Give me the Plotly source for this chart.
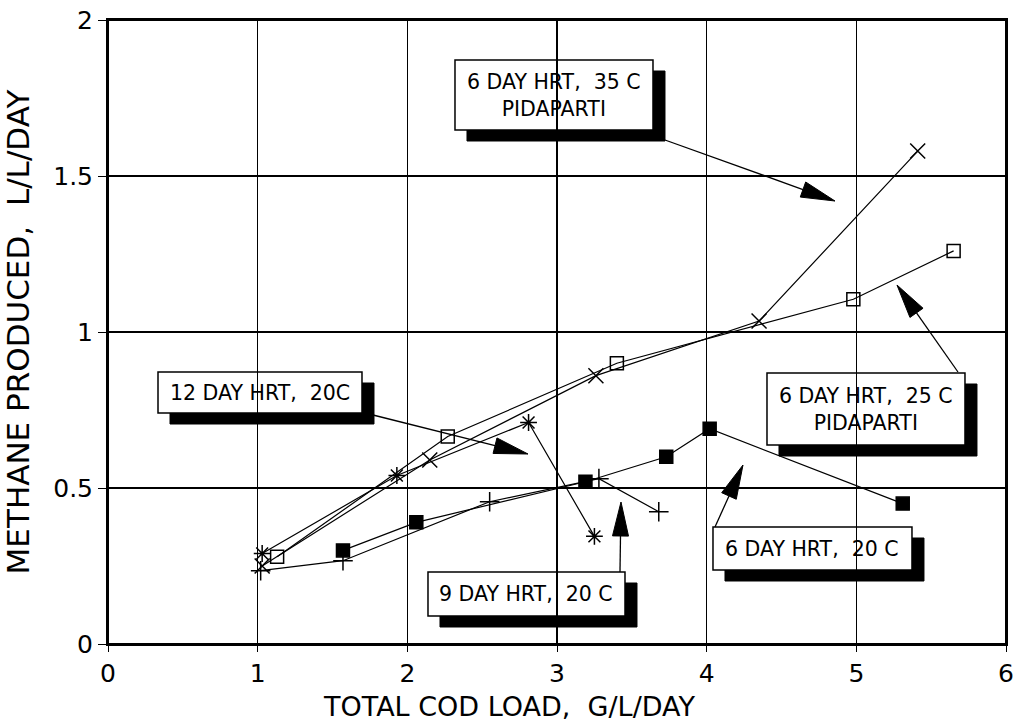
import math
import plotly.graph_objects as go

# ---- data ----
x_35c = [1.03, 2.15, 3.26, 4.35, 5.41]
y_35c = [0.25, 0.59, 0.86, 1.035, 1.58]

x_25c = [1.13, 2.27, 3.40, 4.98, 5.65]
y_25c = [0.28, 0.665, 0.90, 1.105, 1.26]

x_12d = [1.03, 1.93, 2.81, 3.25]
y_12d = [0.29, 0.54, 0.71, 0.345]

x_9d = [1.02, 1.57, 2.55, 3.28, 3.68]
y_9d = [0.235, 0.267, 0.456, 0.53, 0.424]

x_20c = [1.57, 2.06, 3.19, 3.73, 4.02, 5.31]
y_20c = [0.30, 0.39, 0.52, 0.60, 0.69, 0.45]

x_ticks = [0, 1, 2, 3, 4, 5, 6]
y_ticks = [0, 0.5, 1, 1.5, 2]
y_tick_text = ["0", "0.5", "1", "1.5", "2"]

FONT = "DejaVu Sans, sans-serif"

fig = go.Figure()

def add_series(x, y, symbol, size):
    fig.add_trace(go.Scatter(
        x=x, y=y, mode="lines+markers",
        line=dict(color="black", width=1.2),
        marker=dict(symbol=symbol, size=size, color="black",
                    line=dict(color="black", width=1.5)),
        showlegend=False, cliponaxis=False, hoverinfo="skip"))

add_series(x_35c, y_35c, "x-thin-open", 15)
add_series(x_25c, y_25c, "square-open", 13)
add_series(x_12d, y_12d, "asterisk-open", 14)
add_series(x_9d, y_9d, "cross-thin-open", 14)
add_series(x_20c, y_20c, "square", 13)

# ---- helpers: figure pixel -> data ----
def px2x(p):
    return (p - 108) / 149.67

def px2y(p):
    return (644 - p) / 312.0

boxes = [
    ((455, 60, 653, 130), "6 DAY HRT,  35 C<br>PIDAPARTI"),
    ((158, 372, 362, 413), "12 DAY HRT,  20C"),
    ((767, 373, 965, 445), "6 DAY HRT,  25 C<br>PIDAPARTI"),
    ((713, 527, 912, 570), "6 DAY HRT,  20 C"),
    ((428, 572, 625, 616), "9 DAY HRT,  20 C"),
]
SH = 12
shapes = []
for (l, t, r, b), txt in boxes:
    shapes.append(dict(type="rect", xref="x", yref="y", layer="below",
                       x0=px2x(l + SH), x1=px2x(r + SH), y0=px2y(t + SH - 1), y1=px2y(b + SH - 1),
                       fillcolor="black", line=dict(color="black", width=1)))
    shapes.append(dict(type="rect", xref="x", yref="y", layer="below",
                       x0=px2x(l), x1=px2x(r), y0=px2y(t), y1=px2y(b),
                       fillcolor="white", line=dict(color="black", width=1.5)))

annotations = []
for (l, t, r, b), txt in boxes:
    annotations.append(dict(x=px2x((l + r) / 2), y=px2y((t + b) / 2), xref="x", yref="y",
                            text=txt, showarrow=False, align="center",
                            font=dict(family=FONT, size=20.5, color="black")))

# arrows: (tail px, tip px) -> line + long narrow filled triangular head
arrows = [
    ((665, 140), (835, 201)),
    ((373, 415), (528, 454)),
    ((958, 372), (897, 285)),
    ((715, 527), (743, 465)),
    ((620, 572), (621, 502)),
]
HEAD_L, HEAD_W = 34, 8
for (tx, ty), (hx, hy) in arrows:
    dx, dy = hx - tx, hy - ty
    n = math.hypot(dx, dy)
    ux, uy = dx / n, dy / n
    bx, by = hx - ux * HEAD_L, hy - uy * HEAD_L
    px_, py_ = -uy, ux
    shapes.append(dict(type="line", xref="x", yref="y", layer="above",
                       x0=px2x(tx), y0=px2y(ty), x1=px2x(bx), y1=px2y(by),
                       line=dict(color="black", width=1.3)))
    pts = [(hx, hy), (bx + px_ * HEAD_W, by + py_ * HEAD_W), (bx - px_ * HEAD_W, by - py_ * HEAD_W)]
    path = "M " + " L ".join(f"{px2x(a):.5f},{px2y(b):.5f}" for a, b in pts) + " Z"
    shapes.append(dict(type="path", xref="x", yref="y", layer="above", path=path,
                       fillcolor="black", line=dict(color="black", width=1)))

# plot frame
shapes.append(dict(type="rect", xref="paper", yref="paper", x0=0, x1=1, y0=0, y1=1,
                   layer="above", line=dict(color="black", width=2)))

# x-axis title as an annotation (it sits left of the plot centre in the reference)
annotations.append(dict(x=px2x(509), y=-(706 - 644) / 624, xref="x", yref="paper", yanchor="middle",
                        text="TOTAL COD LOAD,  G/L/DAY", showarrow=False,
                        font=dict(family=FONT, size=27, color="black")))

fig.update_layout(
    width=1013, height=727,
    margin=dict(l=108, r=7, t=20, b=83),
    paper_bgcolor="white", plot_bgcolor="rgba(0,0,0,0)",
    font=dict(family=FONT, color="black"),
    shapes=shapes, annotations=annotations,
    hovermode=False,
)
fig.update_xaxes(range=[0, 6], tickvals=x_ticks, showgrid=True, gridcolor="black", gridwidth=1.2,
                 zeroline=False, showline=True, linecolor="black", linewidth=2, mirror=True,
                 ticks="outside", ticklen=6, tickcolor="black", automargin=False,
                 ticklabeloverflow="allow",
                 tickfont=dict(size=25, family=FONT))
fig.update_yaxes(range=[0, 2], tickvals=y_ticks, ticktext=y_tick_text, showgrid=True, gridcolor="black", gridwidth=2,
                 zeroline=False, showline=True, linecolor="black", linewidth=2, mirror=True,
                 ticks="outside", ticklen=8, tickcolor="black", automargin=False,
                 ticklabeloverflow="allow",
                 tickfont=dict(size=25, family=FONT),
                 title=dict(text="METHANE PRODUCED,  L/L/DAY", font=dict(size=31, family=FONT), standoff=26))

fig.write_html("out.html", config={"displayModeBar": False, "staticPlot": True},
               post_script="document.body.style.margin='0px';document.body.style.overflow='hidden';")
